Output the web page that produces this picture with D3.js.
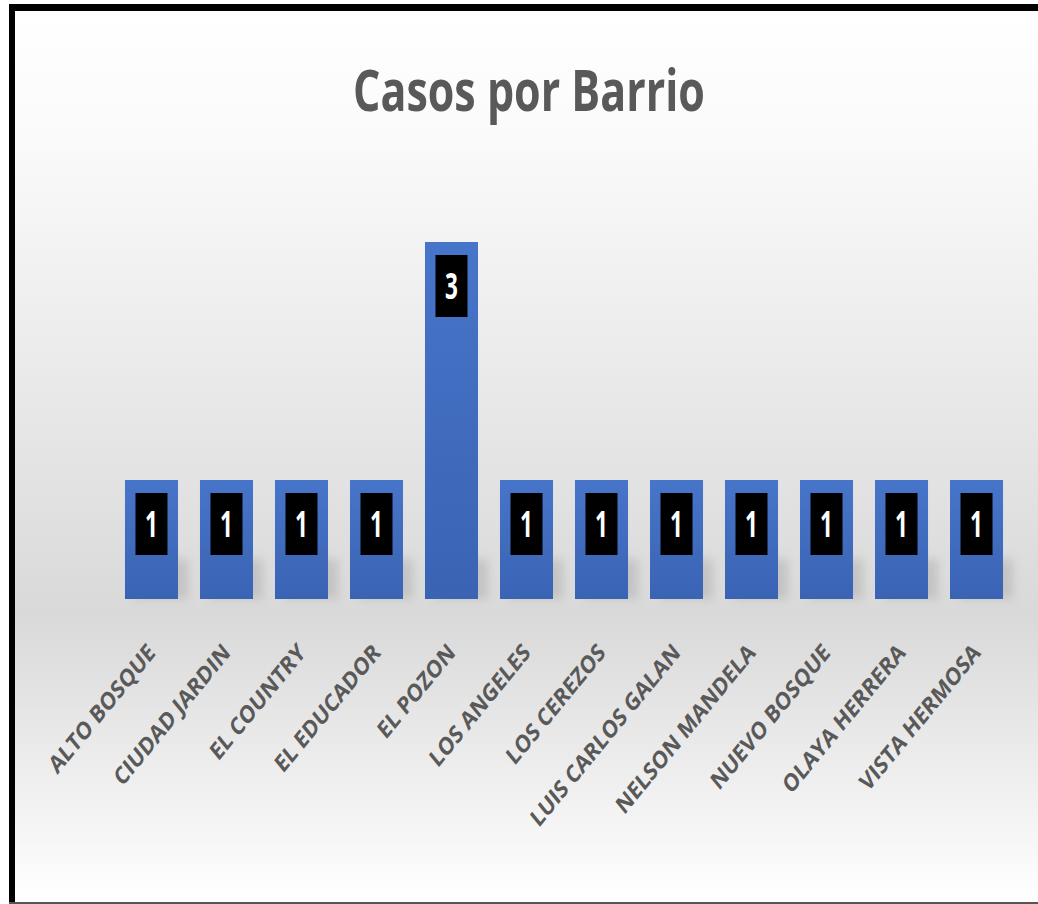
<!DOCTYPE html>
<html>
<head>
<meta charset="utf-8">
<script src="https://cdn.jsdelivr.net/npm/d3@7"></script>
<style>
  body { margin: 0; background: #fff; }
  svg { display: block; }
</style>
</head>
<body>
<svg id="chart"></svg>
<script>
// Datos.
const BARRIOS = ["ALTO BOSQUE", "CIUDAD JARDIN", "EL COUNTRY", "EL EDUCADOR", "EL POZON",
                 "LOS ANGELES", "LOS CEREZOS", "LUIS CARLOS GALAN", "NELSON MANDELA",
                 "NUEVO BOSQUE", "OLAYA HERRERA", "VISTA HERMOSA"];
const CASOS = [1, 1, 1, 1, 3, 1, 1, 1, 1, 1, 1, 1];
const TITULO = "Casos por Barrio";

// Configuración.
const WIDTH = 1038;
const HEIGHT = 904;
const STRETCH = 1.42;   // el original está estirado en vertical
const STRETCH_EJE = 1.22;

const svg = d3.select('svg#chart')
              .attr('width', WIDTH)
              .attr('height', HEIGHT);

const defs = svg.append('defs');

const fondo = defs.append('linearGradient')
                  .attr('id', 'fondo')
                  .attr('x1', 0).attr('y1', 0).attr('x2', 0).attr('y2', 1);
fondo.append('stop').attr('offset', 0).attr('stop-color', '#ffffff');
fondo.append('stop').attr('offset', 0.15).attr('stop-color', '#fafafa');
fondo.append('stop').attr('offset', 0.68).attr('stop-color', '#d9d9d9');
fondo.append('stop').attr('offset', 1).attr('stop-color', '#ffffff');

const barra = defs.append('linearGradient')
                  .attr('id', 'barra')
                  .attr('x1', 0).attr('y1', 0).attr('x2', 0).attr('y2', 1);
barra.append('stop').attr('offset', 0).attr('stop-color', '#4775c9');
barra.append('stop').attr('offset', 1).attr('stop-color', '#3a63b4');

defs.append('filter')
    .attr('id', 'sombra')
    .attr('x', -0.5).attr('y', -0.5).attr('width', 2).attr('height', 2)
    .append('feGaussianBlur')
    .attr('stdDeviation', 5);

// Marco y fondo.
svg.append('rect')
   .attr('x', 12).attr('y', 8)
   .attr('width', WIDTH - 12).attr('height', HEIGHT - 10)
   .attr('fill', 'url(#fondo)');

svg.append('rect')
   .attr('x', 9).attr('y', 4)
   .attr('width', WIDTH - 9).attr('height', 7)
   .attr('fill', '#000');
svg.append('rect')
   .attr('x', 9).attr('y', 4)
   .attr('width', 6).attr('height', HEIGHT - 5)
   .attr('fill', '#000');
svg.append('rect')
   .attr('x', 9).attr('y', HEIGHT - 2)
   .attr('width', WIDTH - 9).attr('height', 2)
   .attr('fill', '#555');

// Escalas.
const escalaX = d3.scaleBand()
                  .domain(BARRIOS)
                  .range([103, 1025])
                  .padding(0.293);

const escalaY = d3.scaleLinear()
                  .domain([0, 3])
                  .range([599, 242]);

const datos = BARRIOS.map((b, i) => ({ barrio: b, casos: CASOS[i] }));

// Sombras.
svg.append('g')
   .selectAll('rect.sombra')
   .data(datos)
   .join('rect')
     .attr('class', 'sombra')
     .attr('x', d => escalaX(d.barrio) + 10)
     .attr('y', d => escalaY(0) - 40)
     .attr('width', escalaX.bandwidth())
     .attr('height', 40)
     .attr('fill', '#a0a0a0')
     .attr('opacity', 0.4)
     .attr('filter', 'url(#sombra)');

// Barras.
svg.append('g')
   .selectAll('rect.barra')
   .data(datos)
   .join('rect')
     .attr('class', 'barra')
     .attr('x', d => escalaX(d.barrio))
     .attr('y', d => escalaY(d.casos))
     .attr('width', escalaX.bandwidth())
     .attr('height', d => escalaY(0) - escalaY(d.casos))
     .attr('fill', 'url(#barra)');

// Etiquetas de valor.
const etiquetas = svg.append('g')
                     .selectAll('g.etiqueta')
                     .data(datos)
                     .join('g')
                       .attr('class', 'etiqueta')
                       .attr('transform', d => `translate(${escalaX(d.barrio) + escalaX.bandwidth() / 2}, ${escalaY(d.casos) + 13})`);

etiquetas.append('rect')
         .attr('x', -16).attr('y', 0)
         .attr('width', 32).attr('height', 62)
         .attr('fill', '#000');

etiquetas.append('text')
         .attr('transform', `translate(0, 44) scale(0.9, 1.45)`)
         .attr('text-anchor', 'middle')
         .attr('font-family', 'Open Sans, sans-serif')
         .attr('font-weight', 'bold')
         .attr('font-size', 25)
         .attr('fill', '#fff')
         .text(d => d.casos);

// Eje X (etiquetas giradas).
svg.append('g')
   .selectAll('text.barrio')
   .data(BARRIOS)
   .join('text')
     .attr('class', 'barrio')
     .attr('transform', d => `translate(${escalaX(d) + escalaX.bandwidth() / 2 + 5}, 654) scale(1, ${STRETCH_EJE}) rotate(-45)`)
     .attr('text-anchor', 'end')
     .attr('font-family', 'Open Sans, sans-serif')
     .attr('font-weight', 'bold')
     .attr('font-size', 20)
     .attr('fill', '#595959')
     .text(d => d);

// Título.
const titulo = svg.append('text')
                  .attr('text-anchor', 'middle')
                  .attr('font-family', 'Open Sans, sans-serif')
                  .attr('font-weight', 'bold')
                  .attr('font-size', 40)
                  .attr('fill', '#595959')
                  .text(TITULO);

const ancho = titulo.node().getComputedTextLength();
const sx = 352 / ancho;
titulo.attr('transform', `translate(529, 111) scale(${sx}, ${STRETCH})`);
</script>
</body>
</html>
